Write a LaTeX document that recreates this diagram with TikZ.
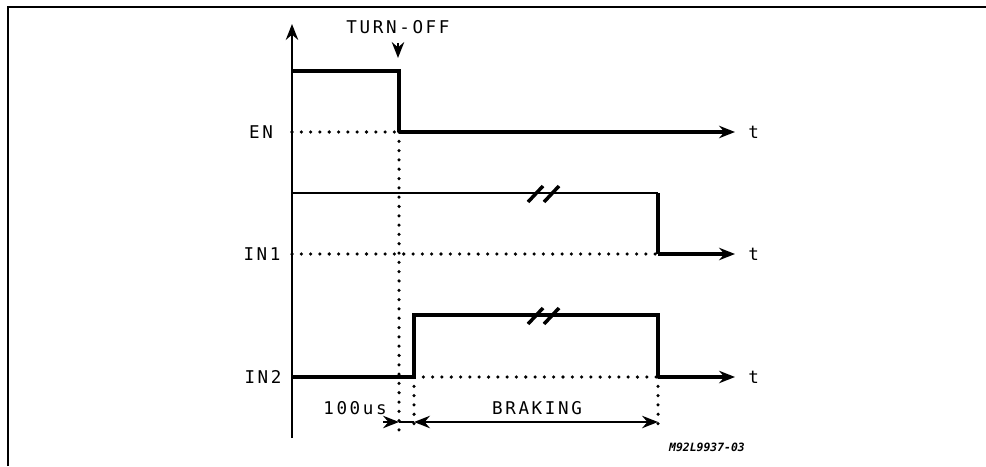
\documentclass[tikz,border=0pt]{standalone}
\usepackage{fontspec}
\newfontfamily\plotfont[LetterSpace=15]{DejaVu Sans Mono}
\newfontfamily\reffont{DejaVu Sans Mono}
\usetikzlibrary{arrows.meta,positioning}

\begin{document}
\begin{tikzpicture}[x=0.02cm,y=-0.02cm,>={Stealth[length=9pt,width=7pt]},
                    sig/.style={line width=2pt},
                    guide/.style={line width=2pt,line cap=round,dash pattern=on 0pt off 5.3pt},
                    lbl/.style={font=\plotfont\fontsize{10}{12}\selectfont,inner sep=0pt}]
	\useasboundingbox (0,0) rectangle (986,466);
	\draw[line width=1.4pt] (8,466) -- (8,7) -- (986,7);
	% time axis
	\coordinate (ax0)	at (292,438);
	\coordinate (ax1)	at (292,24);
	\draw[line width=1.4pt,->] (ax0) -- (ax1);
	% EN
	\coordinate (en0)	at (292,71);
	\coordinate (en1)	at (399,71);
	\coordinate (en2)	at (399,132);
	\coordinate (enE)	at (735,132);
	\coordinate (enA)	at (292,132);
	\node[lbl]		(en)	at (261,132)		{EN};
	\node[lbl,right=0.26cm of enE]	(tEN)	{t};
	\draw[sig] (en0) -- (en1) -- (en2);
	\draw[sig,->] (en2) -- (enE);
	\draw[guide] (enA) -- (en2);
	% IN1
	\coordinate (i1a)	at (292,193);
	\coordinate (i1b)	at (658,193);
	\coordinate (i1c)	at (658,254);
	\coordinate (i1E)	at (735,254);
	\coordinate (i1A)	at (292,254);
	\node[lbl]		(in1)	at (262,254)		{IN1};
	\node[lbl,right=0.26cm of i1E]	(tIN1)	{t};
	\draw[line width=1.5pt] (i1a) -- (i1b);
	\draw[sig] (i1b) -- (i1c);
	\draw[sig,->] (i1c) -- (i1E);
	\draw[guide] (i1A) -- (i1c);
	% IN2
	\coordinate (i2a)	at (292,377);
	\coordinate (i2b)	at (414,377);
	\coordinate (i2c)	at (414,315);
	\coordinate (i2d)	at (658,315);
	\coordinate (i2e)	at (658,377);
	\coordinate (i2E)	at (735,377);
	\node[lbl]		(in2)	at (263,377)		{IN2};
	\node[lbl,right=0.26cm of i2E]	(tIN2)	{t};
	\draw[sig] (i2a) -- (i2b) -- (i2c) -- (i2d) -- (i2e);
	\draw[sig,->] (i2e) -- (i2E);
	\draw[guide] (i2b) -- (i2e);
	% breaks
	\foreach \y in {193,315} {
		\draw[sig] (528,\y+9) -- (543,\y-7);
		\draw[sig] (544,\y+9) -- (559,\y-7);
	}
	% turn-off marker
	\node[lbl]		(off)	at (398,27)		{TURN-OFF};
	\coordinate (offT)	at (398,43);
	\coordinate (offB)	at (398,58);
	\draw[line width=1.4pt,->] (offT) -- (offB);
	% timing
	\coordinate (d0)	at (399,430);
	\coordinate (d1)	at (414,430);
	\coordinate (d2)	at (658,430);
	\draw[guide] (en2) -- (d0);
	\draw[guide] (i2b) -- (d1);
	\draw[guide] (i2e) -- (d2);
	\coordinate (m0)	at (383,422);
	\coordinate (m1)	at (399,422);
	\coordinate (m2)	at (414,422);
	\coordinate (m3)	at (658,422);
	\draw[line width=1.4pt,->] (m0) -- (m1);
	\draw[line width=1.4pt] (m1) -- (m2);
	\draw[line width=1.4pt,<->] (m2) -- (m3);
	\node[lbl]		(dly)	at (355,408)		{100us};
	\node[lbl]		(brk)	at (537,408)		{BRAKING};
	\node[font=\reffont\bfseries\itshape\fontsize{6.5}{8}\selectfont,inner sep=0pt]
					(ref)	at (707,447)		{M92L9937-03};
\end{tikzpicture}
\end{document}
